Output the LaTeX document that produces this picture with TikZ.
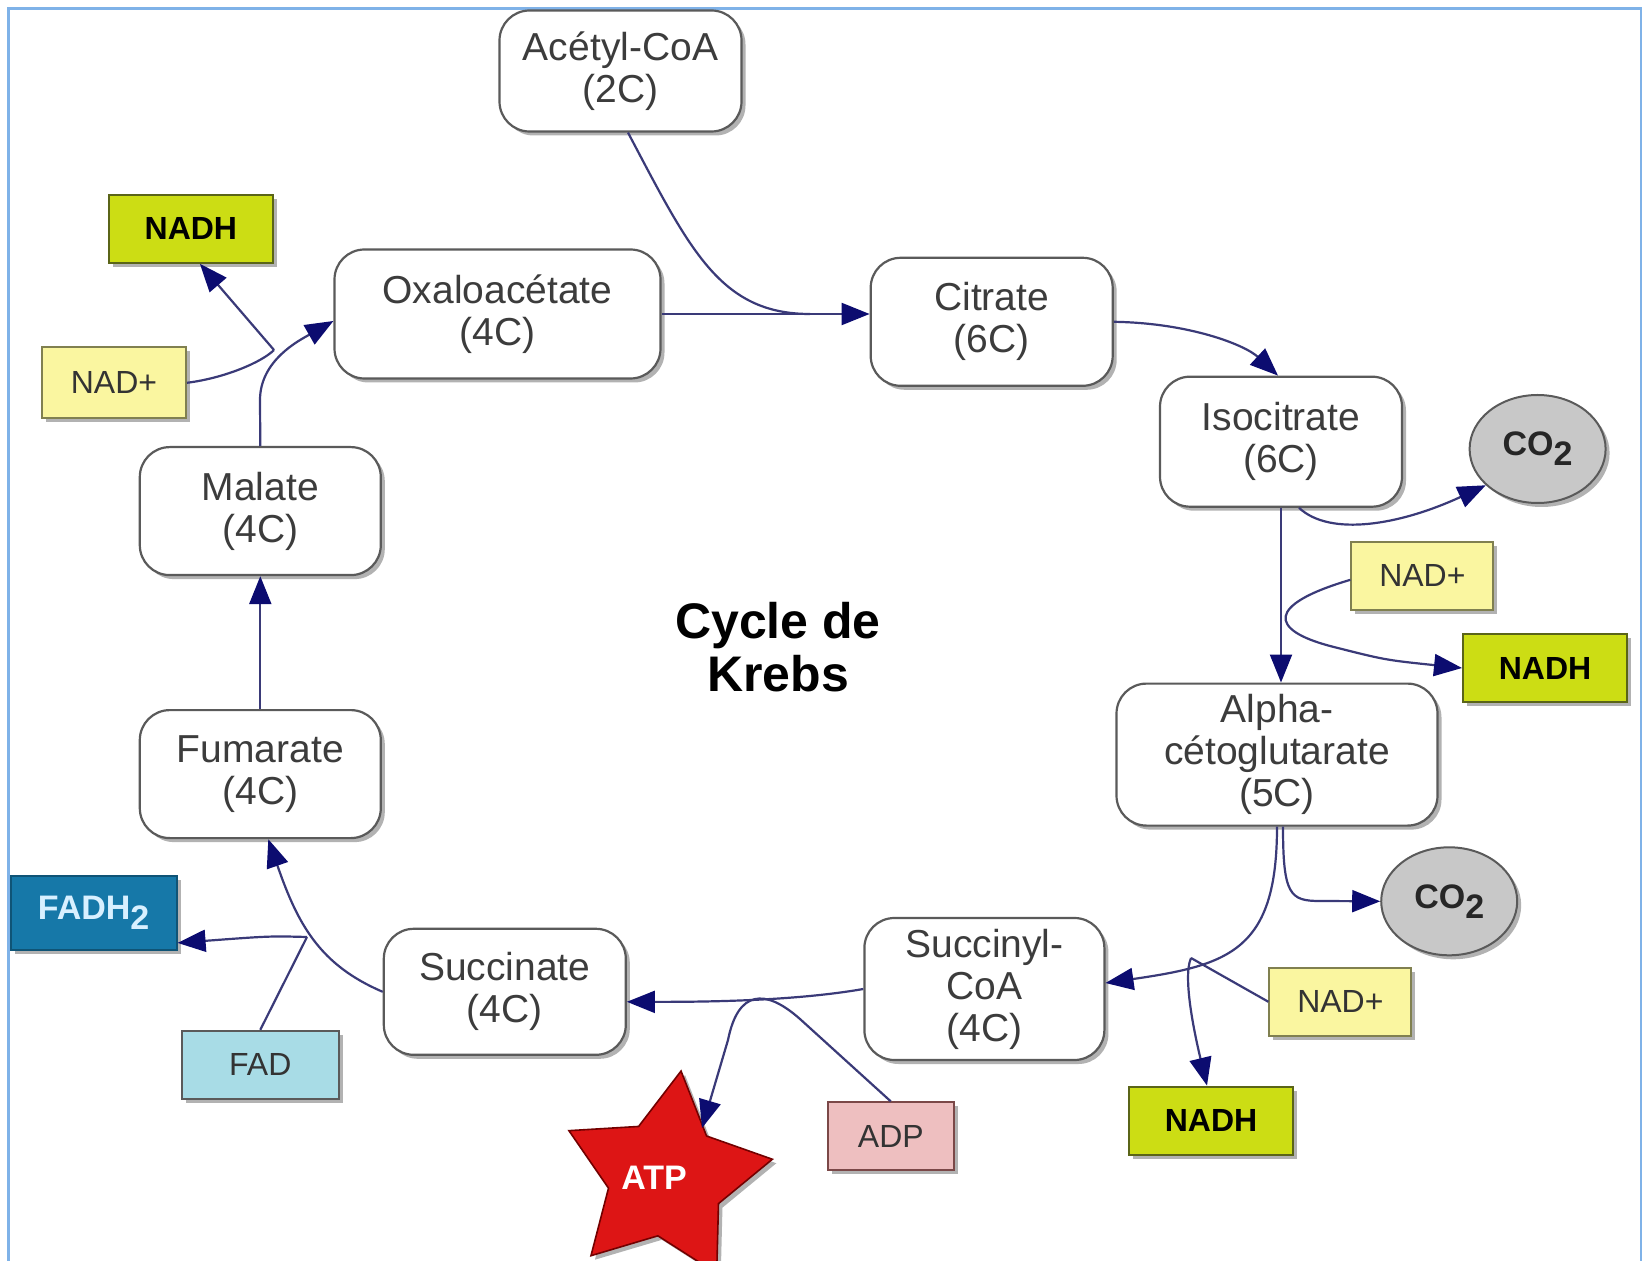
\documentclass[tikz,border=0pt]{standalone}
\usepackage{fontspec}
\setmainfont{Liberation Sans}
\usetikzlibrary{shapes.geometric,shadows,arrows.meta}
\definecolor{framecol}{HTML}{7FB2E8}
\definecolor{boxline}{HTML}{5A5A5A}
\definecolor{txtgray}{HTML}{3C3C3C}
\definecolor{linecol}{HTML}{3A3A78}
\definecolor{arrowcol}{HTML}{0C0C70}
\definecolor{nadhfill}{HTML}{CCDD14}
\definecolor{nadhline}{HTML}{5A6418}
\definecolor{nadfill}{HTML}{FAF6A0}
\definecolor{nadline}{HTML}{808050}
\definecolor{cofill}{HTML}{C8C8C8}
\definecolor{fadhfill}{HTML}{1678A8}
\definecolor{fadhtxt}{HTML}{D8F0FF}
\definecolor{fadfill}{HTML}{A8DCE6}
\definecolor{adpfill}{HTML}{EEBFC0}
\definecolor{atpfill}{HTML}{DD1515}
\newcommand{\lowtwo}{\raisebox{-0.3em}{2}}
\begin{document}
\begin{tikzpicture}[x=0.5pt,y=-0.5pt,
 shade/.style={drop shadow={shadow xshift=2pt,shadow yshift=-2pt,fill=black,opacity=0.3}},
 state/.style={shade, draw=boxline, line width=1.1pt, rounded corners=15pt, fill=white, align=center, text=txtgray, inner sep=0pt, font=\fontsize{19.5}{21}\selectfont},
 tag/.style={shade, draw, line width=1pt, inner sep=0pt, minimum height=34pt, font=\fontsize{16}{18}\selectfont, text=black!80},
 nadh/.style={tag, fill=nadhfill, draw=nadhline, minimum width=82pt, font=\bfseries\fontsize{16}{18}\selectfont, text=black},
 nad/.style={tag, fill=nadfill, draw=nadline, minimum width=71pt},
 co/.style={shade, ellipse, draw=boxline, line width=1pt, fill=cofill, minimum width=68pt, minimum height=54pt, inner sep=0pt, font=\bfseries\fontsize{17}{18}\selectfont, text=black!85},
 flow/.style={draw=linecol, line width=1.1pt, -{Triangle[length=14pt,width=11pt,color=arrowcol]}},
 plain/.style={draw=linecol, line width=1.1pt},
]
\useasboundingbox (0,0) rectangle (1649,1261);
\fill[white] (0,0) rectangle (1649,1261);
\draw[framecol, line width=1.2pt] (8.4,8.4) rectangle (1641,1280);

% cycle states
\node[state, minimum width=121pt, minimum height=60.5pt] (acet) at (620.5,71) {Acétyl-CoA\\(2C)};
\node[state, minimum width=163pt, minimum height=64.5pt] (oxa) at (497.5,314) {Oxaloacétate\\(4C)};
\node[state, minimum width=121pt, minimum height=64pt] (cit) at (991.7,321.8) {Citrate\\(6C)};
\node[state, minimum width=121pt, minimum height=65pt] (iso) at (1281,441.7) {Isocitrate\\(6C)};
\node[state, minimum width=160.5pt, minimum height=71pt] (alpha) at (1277,754.6) {Alpha-\\cétoglutarate\\(5C)};
\node[state, minimum width=120pt, minimum height=71pt] (succ) at (984.4,989) {Succinyl-\\CoA\\(4C)};
\node[state, minimum width=121pt, minimum height=63pt] (sucn) at (504.8,991.8) {Succinate\\(4C)};
\node[state, minimum width=120.5pt, minimum height=64pt] (fum) at (260.3,774.1) {Fumarate\\(4C)};
\node[state, minimum width=120.5pt, minimum height=64pt] (mal) at (260.3,511.1) {Malate\\(4C)};

% side products
\node[co] (co2a) at (1537.6,449) {CO\lowtwo};
\node[co] (co2b) at (1449.2,901.3) {CO\lowtwo};
\node[nad] (nadr) at (1422.4,575.8) {NAD+};
\node[nadh] (nadhr) at (1545,668) {NADH};
\node[nad] (nadb) at (1340.4,1001.8) {NAD+};
\node[nadh] (nadhb) at (1211,1120.6) {NADH};
\node[tag, fill=adpfill, draw=boxline!80!red, minimum width=63pt] (adp) at (890.8,1136.4) {ADP};
\node[shade, star, star points=5, star point ratio=1.85, shape border rotate=-8, minimum size=108pt, inner sep=0pt, fill=atpfill, draw=red!45!black, line width=0.8pt] (atp) at (666,1178) {};
\node[text=white, font=\bfseries\fontsize{17}{18}\selectfont] (atplbl) at (654,1178) {ATP};
\node[tag, fill=fadfill, draw=boxline, minimum width=78.5pt] (fad) at (260.3,1064.8) {FAD};
\node[tag, fill=fadhfill, draw=fadhfill!70!black, minimum width=83pt, minimum height=37pt, text=fadhtxt, font=\bfseries\fontsize{17}{18}\selectfont] (fadh) at (93.6,912.9) {FADH\lowtwo};
\node[nad, minimum width=72pt, minimum height=35.5pt] (nadl) at (114,382.8) {NAD+};
\node[nadh] (nadhl) at (190.9,228.8) {NADH};

\node[font=\bfseries\fontsize{25}{26.5}\selectfont, align=center, text=black] (title) at (778,647) {Cycle de\\Krebs};

% connectors
\coordinate (jA) at (810,314);
\draw[plain] ([xshift=3.75pt]acet.south) .. controls (690,250) and (720,314) .. (jA);
\draw[flow] (oxa.east) -- (oxa.east -| cit.west);
\draw[flow] (cit.east) .. controls (1190,323) and (1245,345) .. ([xshift=-1.5pt]iso.north);
\draw[flow] (iso.south) -- (iso.south |- alpha.north);
\draw[flow] ([xshift=9pt]iso.south) .. controls (1330,537) and (1400,525) .. (co2a.215);
\draw[flow] ([yshift=-2pt]nadr.west) .. controls (1265,605) and (1270,630) .. (1330,646) .. controls (1385,660) .. (nadhr.west);
\draw[flow] (alpha.south) .. controls (1277,950) and (1230,965) .. ([yshift=3pt]succ.east);
\draw[flow] ([xshift=3pt]alpha.south) .. controls (1283,895) and (1290,901) .. (1320,901) -- (co2b.west);
\coordinate (jB) at (1191,958);
\draw[plain] (nadb.west) -- (jB);
\draw[flow] (jB) .. controls (1182,978) and (1196,1040) .. ([xshift=-2pt]nadhb.north);
\draw[flow] (succ.west) .. controls (800,1000) and (720,1002) .. ([yshift=-5pt]sucn.east);
\draw[flow] (adp.north) -- (800,1019) .. controls (765,988) and (738,990) .. (728,1040) -- (702,1128);
\draw[flow] (sucn.west) .. controls (320,965) and (298,925) .. ([xshift=4pt]fum.south);
\coordinate (jC) at (307,937);
\draw[plain] (fad.north) -- (jC);
\draw[flow] (jC) .. controls (270,936) .. ([yshift=-15pt]fadh.east);
\draw[flow] (fum.north) -- (mal.south);
\draw[flow] (mal.north) -- (260,400) .. controls (260,360) and (300,340) .. ([yshift=-3.5pt]oxa.west);
\coordinate (jD) at (274,350);
\draw[plain] (nadl.east) .. controls (225,378) and (262,362) .. (jD);
\draw[flow] (jD) -- ([xshift=4.5pt]nadhl.south);
\end{tikzpicture}
\end{document}
